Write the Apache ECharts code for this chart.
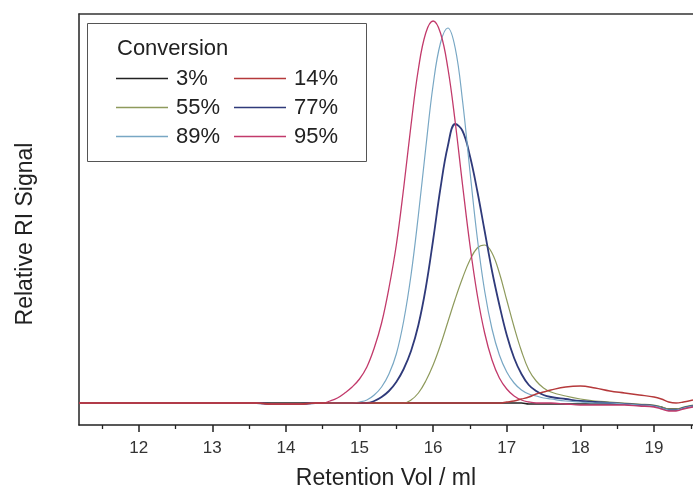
<!DOCTYPE html>
<html>
<head>
<meta charset="utf-8">
<script src="https://cdn.jsdelivr.net/npm/echarts@6/dist/echarts.min.js"></script>
<style>html,body{margin:0;padding:0;background:#fff;}#c{width:693px;height:492px;}</style>
</head>
<body>
<div id="c"></div>
<script>
// Retention volume (ml) sample positions
const retention = [11.19, 12, 13, 13.6, 13.8, 14.0, 14.2, 14.4,
  14.5, 14.6, 14.7, 14.8, 14.9, 15.0, 15.1, 15.2, 15.3, 15.4, 15.5, 15.6, 15.7, 15.8, 15.9,
  16.0, 16.1, 16.2, 16.3, 16.4, 16.5, 16.6, 16.7, 16.8, 16.9, 17.0, 17.1, 17.2, 17.3, 17.4, 17.5, 17.6,
  17.8, 18.0, 18.2, 18.4, 18.6, 18.8, 19.0, 19.1, 19.2, 19.3, 19.4, 19.53];

// Relative RI signal (arbitrary units) per conversion
const conv3  = [0, 0, 0, 0, 0, 0, 0, 0,
  0, 0, 0, 0, 0, 0, 0, 0, 0, 0, 0, 0, 0, 0, 0,
  0, 0, 0, 0, 0, 0, 0, 0, 0, 0, 0, 0, 0, -1, -1, -1, -1,
  -1, -1, -1, -1, -1, -2, -3, -4, -6, -6, -5, -3];
const conv14 = [0, 0, 0, 0, -1, -1, -1, 0,
  0, 0, 0, 0, 0, 0, 0, 0, 0, 0, 0, 0, 0, 0, 0,
  0, 0, 0, 0, 0, 0, 0, 0, 0, 0, 1, 2, 4, 6, 9, 11, 13,
  16, 17, 15, 12, 10, 8, 6, 4, 1, 0, 1, 3];
const conv55 = [0, 0, 0, 0, -1, -1, -1, 0,
  0, 0, 0, 0, 0, 0, 0, 0, 0, 0, 0, 0, 3, 10, 22,
  38, 58, 81, 104, 125, 143, 155, 158, 150, 130, 103, 76, 52, 33, 22, 15, 11,
  7, 4, 2, 1, 0, -1, -2, -4, -6, -6, -4, -2];
const conv77 = [0, 0, 0, 0, -1, -1, -1, 0,
  0, 0, 0, 0, 0, 0, 0, 2, 6, 12, 21, 34, 52, 78, 115,
  163, 215, 257, 279, 272, 247, 212, 172, 132, 98, 68, 45, 29, 18, 12, 8, 6,
  4, 2, 1, 0, -1, -2, -3, -5, -7, -7, -5, -3];
const conv89 = [0, 0, 0, 0, -1, -1, -1, 0,
  0, 0, 0, 0, 0, 1, 3, 8, 16, 29, 49, 82, 128, 188, 255,
  318, 360, 375, 355, 302, 232, 165, 112, 74, 48, 31, 20, 13, 9, 7, 5, 4,
  2, 1, 0, 0, -1, -2, -3, -5, -7, -7, -5, -3];
const conv95 = [0, 0, 0, 0, -1, -1, -1, 0,
  0, 2, 5, 10, 16, 24, 36, 55, 80, 115, 158, 215, 278, 334, 370,
  382, 370, 335, 281, 218, 158, 108, 70, 43, 25, 14, 7, 3, 1, 0, 0, 0,
  -1, -2, -2, -2, -2, -3, -4, -6, -8, -8, -6, -4];

const seriesNames = ['3%', '14%', '55%', '77%', '89%', '95%'];
const majorTicks = [12, 13, 14, 15, 16, 17, 18, 19];
const minorTicks = [11.5, 12.5, 13.5, 14.5, 15.5, 16.5, 17.5, 18.5, 19.5];

const pair = arr => retention.map((x, i) => [x, arr[i]]);
const colors = {'3%': '#222222', '14%': '#b5393b', '55%': '#8e9a5c', '77%': '#2f3a7a', '89%': '#78a7c4', '95%': '#c23a6b'};
const widths = {'3%': 1.3, '14%': 1.4, '55%': 1.2, '77%': 1.8, '89%': 1.2, '95%': 1.3};
const values = {'3%': conv3, '14%': conv14, '55%': conv55, '77%': conv77, '89%': conv89, '95%': conv95};
const drawOrder = ['3%', '55%', '77%', '89%', '95%', '14%'];

const font = 'Liberation Sans, Arial, sans-serif';
const X_MIN = 11.19, X_MAX = 19.53;

const chart = echarts.init(document.getElementById('c'), null, {renderer: 'canvas'});
chart.setOption({
  animation: false,
  backgroundColor: '#ffffff',
  grid: {left: 79, right: 0, top: 14, bottom: 67, containLabel: false, outerBoundsMode: 'none'},
  xAxis: [
    {
      type: 'value', position: 'bottom', min: X_MIN, max: X_MAX,
      name: 'Retention Vol / ml', nameLocation: 'middle', nameGap: 42,
      nameTextStyle: {fontFamily: font, fontSize: 23, color: '#222'},
      axisLine: {show: true, onZero: false, lineStyle: {color: '#222', width: 1.5}},
      axisTick: {show: true, inside: false, length: 7, customValues: majorTicks, lineStyle: {color: '#222', width: 1.5}},
      axisLabel: {show: true, customValues: majorTicks, fontFamily: font, fontSize: 17, color: '#333', margin: 15},
      splitLine: {show: false}
    },
    {
      type: 'value', position: 'top', min: X_MIN, max: X_MAX,
      axisLine: {show: true, onZero: false, lineStyle: {color: '#333', width: 1.5}},
      axisTick: {show: false}, axisLabel: {show: false}, splitLine: {show: false}
    },
    {
      type: 'value', position: 'bottom', min: X_MIN, max: X_MAX, offset: 0,
      axisLine: {show: false, onZero: false},
      axisTick: {show: true, inside: false, length: 4, customValues: minorTicks, lineStyle: {color: '#222', width: 1.3}},
      axisLabel: {show: false}, splitLine: {show: false}
    }
  ],
  yAxis: {
    type: 'value', min: -22, max: 389,
    name: 'Relative RI Signal', nameLocation: 'middle', nameGap: 42,
    nameTextStyle: {fontFamily: font, fontSize: 23, color: '#222', padding: [0, 29, 0, 0]},
    axisLine: {show: true, onZero: false, lineStyle: {color: '#222', width: 1.5}},
    axisTick: {show: false}, axisLabel: {show: false}, splitLine: {show: false}
  },
  legend: {
    data: seriesNames.map(n => ({name: n, icon: 'rect'})),
    left: 116, top: 64, width: 250, padding: 0, itemGap: 0,
    itemWidth: 52, itemHeight: 1.6,
    textStyle: {fontFamily: font, fontSize: 22, color: '#222', width: 58, lineHeight: 29, padding: [0, 0, 0, 3]}
  },
  graphic: [
    {type: 'rect', shape: {x: 87.5, y: 23.5, width: 279, height: 138}, style: {fill: 'none', stroke: '#555', lineWidth: 1}, z: 10},
    {type: 'text', x: 117, y: 49, style: {text: 'Conversion', font: '22px ' + font, fill: '#222', textVerticalAlign: 'middle'}, z: 10}
  ],
  series: drawOrder.map(n => ({
    name: n, type: 'line', xAxisIndex: 0, symbol: 'none', smooth: 0.4,
    data: pair(values[n]),
    lineStyle: {color: colors[n], width: widths[n]},
    itemStyle: {color: colors[n]}
  }))
});
</script>
</body>
</html>
